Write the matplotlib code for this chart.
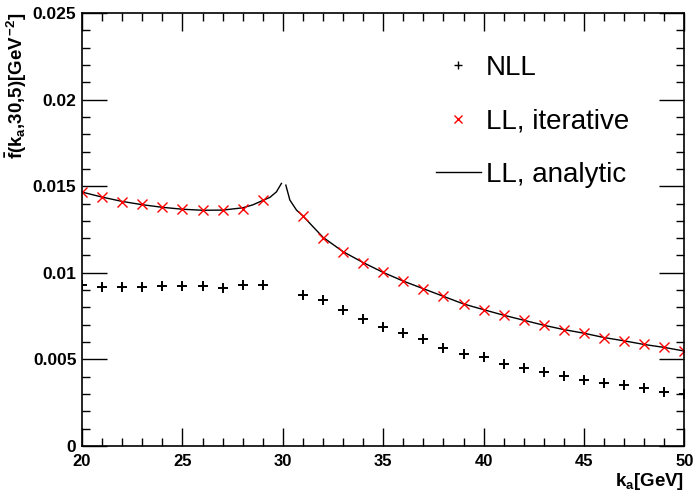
import numpy as np
import matplotlib
matplotlib.use("Agg")
from matplotlib import pyplot as plt
from matplotlib.lines import Line2D
from matplotlib.ticker import MultipleLocator

plt.rcParams['font.family'] = ['Liberation Sans', 'DejaVu Sans']
plt.rcParams['mathtext.fontset'] = 'custom'
plt.rcParams['mathtext.rm'] = 'Liberation Sans:bold'
plt.rcParams['mathtext.it'] = 'Liberation Sans:bold'
plt.rcParams['mathtext.bf'] = 'Liberation Sans:bold'

# NLL, с погрешностями
k_nll = [20, 21, 22, 23, 24, 25, 26, 27, 28, 29,
         31, 32, 33, 34, 35, 36, 37, 38, 39, 40,
         41, 42, 43, 44, 45, 46, 47, 48, 49, 50]
f_nll = [0.00927, 0.00920, 0.00920, 0.00920, 0.00921, 0.00925, 0.00921, 0.00914, 0.00929, 0.00929,
         0.00872, 0.00843, 0.00787, 0.00734, 0.00686, 0.00651, 0.00615, 0.00563, 0.00533, 0.00513,
         0.00475, 0.00452, 0.00425, 0.00406, 0.00381, 0.00366, 0.00352, 0.00332, 0.00312, 0.00303]
df_nll = [0.00025, 0.00015, 0.00015, 0.00015, 0.00015, 0.00018, 0.00015, 0.00015, 0.00018, 0.00018,
          0.00015, 0.00030, 0.00018, 0.00018, 0.00015, 0.00015, 0.00015, 0.00015, 0.00015, 0.00018,
          0.00015, 0.00013, 0.00013, 0.00015, 0.00015, 0.00015, 0.00013, 0.00013, 0.00015, 0.00013]

# LL, итерационное решение
k_it = [20, 21, 22, 23, 24, 25, 26, 27, 28, 29,
        31, 32, 33, 34, 35, 36, 37, 38, 39, 40,
        41, 42, 43, 44, 45, 46, 47, 48, 49, 50]
f_it = [0.01464, 0.01439, 0.01410, 0.01397, 0.01378, 0.01366, 0.01360, 0.01360, 0.01370, 0.01421,
        0.01329, 0.01203, 0.01122, 0.01059, 0.01002, 0.00952, 0.00908, 0.00864, 0.00820, 0.00787,
        0.00755, 0.00726, 0.00697, 0.00672, 0.00651, 0.00626, 0.00607, 0.00586, 0.00569, 0.00548]

# LL, аналитика (две ветви, излом при 30)
k_an1 = [20, 21, 22, 23, 24, 25, 26, 27, 28, 28.5, 29.05, 29.35, 29.68, 29.93]
f_an1 = [0.01466, 0.01437, 0.01412, 0.01393, 0.01378, 0.01367, 0.01361, 0.01362, 0.01375, 0.01392,
         0.01420, 0.01435, 0.01467, 0.01516]
k_an2 = [30.15, 30.35, 30.68, 31, 32, 33, 34, 35, 36, 37, 38, 39, 40,
         41, 42, 43, 44, 45, 46, 47, 48, 49, 50]
f_an2 = [0.01506, 0.01420, 0.01362, 0.01328, 0.01205, 0.01122, 0.01059, 0.01002, 0.00952, 0.00908,
         0.00864, 0.00820, 0.00787, 0.00755, 0.00726, 0.00697, 0.00672, 0.00651, 0.00626, 0.00607,
         0.00586, 0.00569, 0.00548]

fig = plt.figure(figsize=(6.94, 4.94), dpi=100)
ax = fig.add_axes([0.1182, 0.0972, 0.868, 0.8765])

ax.plot(k_an1, f_an1, color='black', lw=1)
ax.plot(k_an2, f_an2, color='black', lw=1)
ax.plot(k_it, f_it, ls='none', marker='x', color='red', ms=7, mew=1)
ax.errorbar(k_nll, f_nll, yerr=df_nll, fmt='+', color='black', ms=7, mew=1.4,
            elinewidth=1.4, capsize=0)

ax.set_xlim(20, 50)
ax.set_ylim(0, 0.025)
ax.xaxis.set_major_locator(MultipleLocator(5))
ax.xaxis.set_minor_locator(MultipleLocator(1))
ax.yaxis.set_major_locator(MultipleLocator(0.005))
ax.yaxis.set_minor_locator(MultipleLocator(0.001))
ax.yaxis.set_major_formatter(plt.FuncFormatter(lambda v, p: '0' if v == 0 else ('%g' % round(v, 4))))
ax.tick_params(which='both', direction='in', top=True, right=True, width=1)
ax.tick_params(axis='x', which='major', length=13)
ax.tick_params(axis='x', which='minor', length=6)
ax.tick_params(axis='y', which='major', length=18)
ax.tick_params(axis='y', which='minor', length=6)
ax.tick_params(axis='x', labelsize=12, pad=6)
ax.tick_params(axis='y', labelsize=12.5, pad=4)
for lbl in ax.get_xticklabels() + ax.get_yticklabels():
    lbl.set_fontweight('bold')
for s in ax.spines.values():
    s.set_linewidth(1.2)

ax.set_ylabel(r'$\bar{f}(k_a{,}30{,}5)[GeV^{-2}]$', fontsize=13.5, loc='top', labelpad=3)
ax.set_xlabel(r'$k_a[GeV]$', fontsize=13.5, loc='right', labelpad=1)

handles = [Line2D([], [], ls='none', marker='+', color='black', ms=6, mew=1),
           Line2D([], [], ls='none', marker='x', color='red', ms=6, mew=1),
           Line2D([], [], color='black', lw=1)]
ax.legend(handles, ['NLL', 'LL, iterative', 'LL, analytic'], loc='upper left',
          bbox_to_anchor=(0.588, 0.904), frameon=False, fontsize=20,
          handlelength=1.6, handletextpad=0.2, labelspacing=1.0, borderpad=0, borderaxespad=0)

fig.savefig('out.png', dpi=100)
